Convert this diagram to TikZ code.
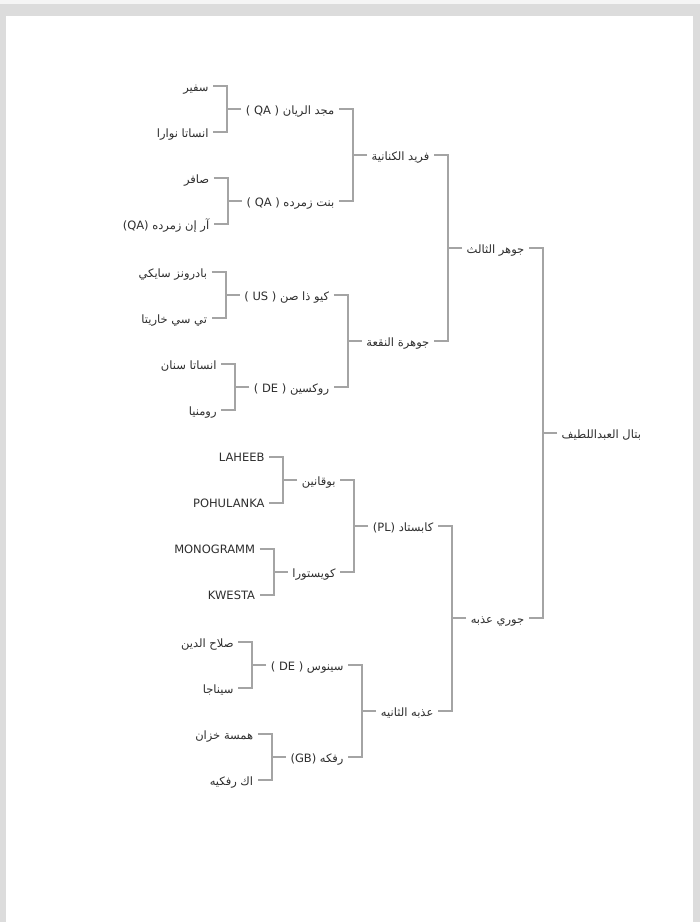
\documentclass[tikz,border=0pt]{standalone}
\usepackage{fontspec}
\setmainfont{DejaVu Sans}
\newfontfamily\arabicfont[Script=Arabic]{DejaVu Sans}
\newfontfamily\latinfont{DejaVu Sans}
\TeXXeTstate=1
\usetikzlibrary{calc}
\definecolor{linegray}{HTML}{A4A4A4}
\definecolor{textgray}{HTML}{2E2E2E}
\definecolor{framegray}{HTML}{DCDCDC}
\newcommand\artext[1]{\lower1.4pt\hbox{\arabicfont\beginR #1\endR}}
\newcommand\lattext[1]{\beginL{\latinfont #1}\endL}

\begin{document}
\begin{tikzpicture}[x=1pt, y=-1pt,
    horse/.style={font=\fontsize{11.5}{14}\latinfont, text=textgray, inner xsep=4.5pt, inner ysep=2pt, text height=8.4pt, text depth=0pt},
    link/.style={draw=linegray, line width=1.8pt},
]
    % page
    \fill[framegray] (0,0) rectangle (700,922);
    \fill[black!4] (0,0) rectangle (700,4);
    \fill[white] (6,16) rectangle (693,922);
    \useasboundingbox (0,0) rectangle (700,922);

    \node[horse, anchor=west] (g) at (557,433) {\artext{بتال العبداللطيف}};
    % parents
    \node[horse, anchor=east] (s) at ($(g.west)+(-28,-185)$) {\artext{جوهر الثالث}};
    \node[horse, anchor=east] (d) at ($(g.west)+(-28,185)$) {\artext{جوري عذبه}};
    % grandparents
    \node[horse, anchor=east] (ss) at ($(s.west)+(-28,-93)$) {\artext{فريد الكنانية}};
    \node[horse, anchor=east] (sd) at ($(s.west)+(-28,93)$) {\artext{جوهرة النقعة}};
    \node[horse, anchor=east] (ds) at ($(d.west)+(-28,-92)$) {\artext{كابستاد \lattext{(PL)}}};
    \node[horse, anchor=east] (dd) at ($(d.west)+(-28,93)$) {\artext{عذبه الثانيه}};
    % great-grandparents
    \node[horse, anchor=east] (sss) at ($(ss.west)+(-28,-46)$) {\artext{مجد الريان \lattext{( QA )}}};
    \node[horse, anchor=east] (ssd) at ($(ss.west)+(-28,46)$) {\artext{بنت زمرده \lattext{( QA )}}};
    \node[horse, anchor=east] (sds) at ($(sd.west)+(-28,-46)$) {\artext{كيو ذا صن \lattext{( US )}}};
    \node[horse, anchor=east] (sdd) at ($(sd.west)+(-28,46)$) {\artext{روكسين \lattext{( DE )}}};
    \node[horse, anchor=east] (dss) at ($(ds.west)+(-28,-46)$) {\artext{بوقانين}};
    \node[horse, anchor=east] (dsd) at ($(ds.west)+(-28,46)$) {\artext{كويستورا}};
    \node[horse, anchor=east] (dds) at ($(dd.west)+(-28,-46)$) {\artext{سينوس \lattext{( DE )}}};
    \node[horse, anchor=east] (ddd) at ($(dd.west)+(-28,46)$) {\artext{رفكه \lattext{(GB)}}};
    % 4th generation
    \node[horse, anchor=east] (ssss) at ($(sss.west)+(-28,-23)$) {\artext{سفير}};
    \node[horse, anchor=east] (sssd) at ($(sss.west)+(-28,23)$) {\artext{انساتا نوارا}};
    \node[horse, anchor=east] (ssds) at ($(ssd.west)+(-28,-23)$) {\artext{صافر}};
    \node[horse, anchor=east] (ssdd) at ($(ssd.west)+(-28,23)$) {\artext{آر إن زمرده \lattext{(QA)}}};
    \node[horse, anchor=east] (sdss) at ($(sds.west)+(-28,-23)$) {\artext{بادرونز سايكي}};
    \node[horse, anchor=east] (sdsd) at ($(sds.west)+(-28,23)$) {\artext{تي سي خاريتا}};
    \node[horse, anchor=east] (sdds) at ($(sdd.west)+(-28,-23)$) {\artext{انساتا سنان}};
    \node[horse, anchor=east] (sddd) at ($(sdd.west)+(-28,23)$) {\artext{رومنيا}};
    \node[horse, anchor=east] (dsss) at ($(dss.west)+(-28,-23)$) {LAHEEB};
    \node[horse, anchor=east] (dssd) at ($(dss.west)+(-28,23)$) {POHULANKA};
    \node[horse, anchor=east] (dsds) at ($(dsd.west)+(-28,-23)$) {MONOGRAMM};
    \node[horse, anchor=east] (dsdd) at ($(dsd.west)+(-28,23)$) {KWESTA};
    \node[horse, anchor=east] (ddss) at ($(dds.west)+(-28,-23)$) {\artext{صلاح الدين}};
    \node[horse, anchor=east] (ddsd) at ($(dds.west)+(-28,23)$) {\artext{سيناجا}};
    \node[horse, anchor=east] (ddds) at ($(ddd.west)+(-28,-23)$) {\artext{همسة خزان}};
    \node[horse, anchor=east] (dddd) at ($(ddd.west)+(-28,23)$) {\artext{اك رفكيه}};

    % brackets
    \foreach \c/\a/\b in {g/s/d, s/ss/sd, d/ds/dd, ss/sss/ssd, sd/sds/sdd, ds/dss/dsd, dd/dds/ddd,
        sss/ssss/sssd, ssd/ssds/ssdd, sds/sdss/sdsd, sdd/sdds/sddd,
        dss/dsss/dssd, dsd/dsds/dsdd, dds/ddss/ddsd, ddd/ddds/dddd} {
        \draw[link] (\a.east) -- ++(14,0) |- (\b.east);
        \draw[link] (\c.west) -- ++(-14,0);
    }
\end{tikzpicture}
\end{document}
